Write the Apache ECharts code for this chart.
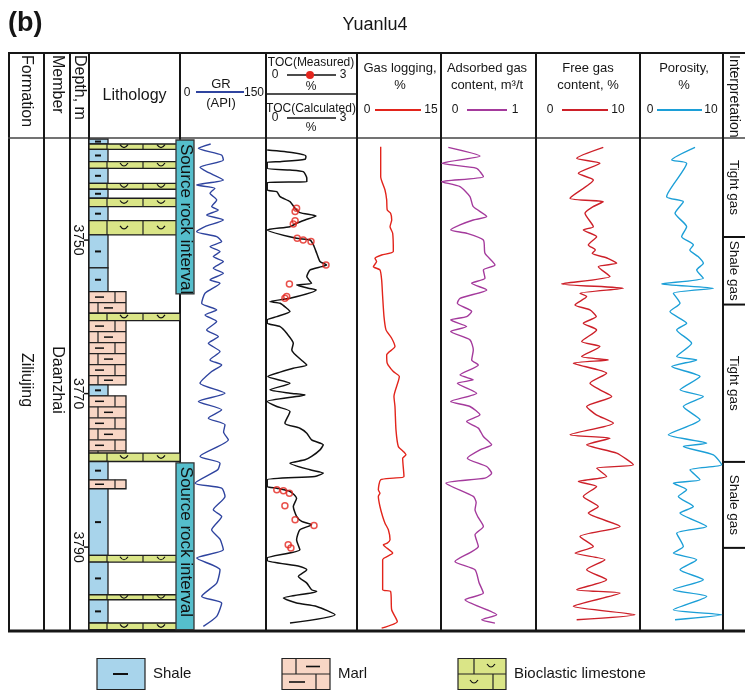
<!DOCTYPE html>
<html><head><meta charset="utf-8">
<script src="https://cdn.jsdelivr.net/npm/echarts@6/dist/echarts.min.js"></script>
<style>html,body{margin:0;padding:0;background:#fff}#c{width:745px;height:690px}</style>
</head><body><div id="c"></div><script>
// ---------------- DATA ----------------
const wellName = 'Yuanlu4';
const depthTop = 3736.7, depthBase = 3800.8;
const depthTicks = [3750, 3770, 3790];
const formationName = 'Ziliujing';
const memberName = 'Daanzhai';

const lithologyTops = [3736.85, 3737.48, 3738.17, 3739.79, 3740.65, 3742.60, 3743.38, 3744.55, 3745.65, 3747.47,
  3749.33, 3753.63, 3756.71, 3759.53, 3760.49, 3768.86, 3770.29, 3777.75, 3778.85, 3781.23,
  3782.40, 3791.09, 3791.95, 3796.21, 3796.86, 3799.89];
const lithologyBases = [3737.48, 3738.17, 3739.79, 3740.65, 3742.60, 3743.38, 3744.55, 3745.65, 3747.47, 3749.33,
  3753.63, 3756.71, 3759.53, 3760.49, 3768.86, 3770.29, 3777.75, 3778.85, 3781.23, 3782.40,
  3791.09, 3791.95, 3796.21, 3796.86, 3799.89, 3800.76];
const lithologyKinds = ['Shale','Bioclastic limestone','Shale','Bioclastic limestone','Shale','Bioclastic limestone',
  'Shale','Bioclastic limestone','Shale','Bioclastic limestone','Shale','Shale','Marl','Bioclastic limestone',
  'Marl','Shale','Marl','Bioclastic limestone','Shale','Marl','Shale','Bioclastic limestone','Shale',
  'Bioclastic limestone','Shale','Bioclastic limestone'];

const sourceRockTops = [3736.96, 3779.02];
const sourceRockBases = [3757.01, 3800.76];
const sourceRockLabel = 'Source rock interval';

const interpTops = [3736.7, 3749.6, 3758.4, 3778.9, 3790.1];
const interpBases = [3749.6, 3758.4, 3778.9, 3790.1, 3800.8];
const interpLabels = ['Tight gas', 'Shale gas', 'Tight gas', 'Shale gas', ''];

// [depth m, GR API]
const grLog = [[3737.48,53.5],[3738.05,32.0],[3738.92,72.7],[3739.57,75.6],[3740.52,34.9],[3741.09,46.5],[3742.17,75.6],
  [3742.82,29.1],[3743.26,61.0],[3743.91,52.3],[3744.77,64.0],[3745.64,55.2],[3746.08,66.9],[3746.73,46.5],[3747.38,75.6],
  [3748.25,43.6],[3748.90,29.1],[3749.55,64.0],[3750.20,72.7],[3750.85,52.3],[3751.50,69.8],[3752.15,58.1],[3752.80,75.6],
  [3753.67,58.1],[3754.32,75.6],[3755.19,52.3],[3755.63,69.8],[3756.93,43.6],[3758.23,37.8],[3759.10,64.0],[3759.75,43.6],
  [3760.62,64.0],[3761.70,46.5],[3762.57,66.9],[3763.44,49.4],[3764.52,69.8],[3765.61,52.3],[3766.26,72.7],[3767.13,55.2],
  [3768.65,34.9],[3769.95,78.5],[3771.03,32.0],[3772.12,72.7],[3773.20,49.4],[3774.07,78.5],[3775.00,76.0],[3776.02,84.3],
  [3778.19,34.9],[3779.06,69.8],[3779.90,66.0],[3781.67,26.2],[3782.32,72.7],[3783.40,78.5],[3785.14,58.1],[3786.01,72.7],
  [3787.74,55.2],[3789.00,70.0],[3790.35,75.6],[3791.43,29.1],[3792.95,69.8],[3794.69,64.0],[3796.42,37.8],[3797.29,72.7],
  [3799.03,64.0],[3800.33,40.7]];

// [depth m, TOC %] calculated
const tocCalculated = [[3738.26,0.04],[3738.61,0.91],[3739.05,1.33],[3739.48,1.30],[3739.78,0.47],[3739.87,0.04],
  [3740.65,0.04],[3740.87,0.80],[3741.09,1.24],[3741.95,1.36],[3742.39,1.36],[3742.52,0.04],[3743.47,0.04],[3743.69,0.36],
  [3744.34,0.47],[3744.99,0.80],[3745.86,0.97],[3746.42,1.13],[3746.86,1.67],[3747.38,1.30],[3747.81,1.02],[3748.25,0.80],
  [3748.68,0.04],[3749.77,1.02],[3749.98,1.47],[3750.63,1.58],[3751.72,1.69],[3752.80,1.80],[3753.24,2.02],[3753.46,1.86],
  [3753.89,1.47],[3754.76,1.36],[3755.63,1.52],[3755.84,1.02],[3756.28,1.41],[3756.49,1.67],[3757.58,0.80],[3758.01,0.13],
  [3758.23,0.47],[3758.88,0.69],[3759.31,0.80],[3759.97,0.36],[3760.40,0.04],[3760.83,0.04],[3761.27,0.47],[3762.14,0.69],
  [3763.44,0.91],[3764.31,0.86],[3765.83,1.24],[3766.26,1.36],[3766.70,0.91],[3767.20,0.47],[3767.78,0.06],[3768.65,0.80],
  [3769.51,0.13],[3769.95,0.80],[3770.17,1.30],[3771.03,0.04],[3771.68,0.36],[3772.33,0.80],[3773.85,0.63],[3774.51,1.13],
  [3775.16,1.36],[3776.02,1.52],[3776.68,1.91],[3777.33,1.80],[3778.19,1.52],[3778.63,1.30],[3779.06,0.80],[3779.93,1.47],
  [3780.36,1.91],[3780.80,1.63],[3781.23,0.04],[3782.10,0.04],[3782.32,0.36],[3782.75,0.80],[3783.62,1.02],[3784.71,0.91],
  [3786.01,1.02],[3786.66,1.19],[3787.09,1.52],[3787.74,1.13],[3789.04,1.02],[3790.35,1.13],[3791.43,0.04],[3791.74,0.04],
  [3792.52,1.13],[3792.95,1.36],[3793.82,1.08],[3794.69,1.36],[3795.56,1.52],[3795.77,1.69],[3796.64,0.58],[3797.29,1.02],
  [3797.73,1.69],[3798.81,2.30],[3799.90,0.80]];

// [depth m, TOC %] measured
const tocMeasured = [[3745.86,1.02],[3746.29,0.97],[3747.47,0.97],[3747.90,0.91],[3749.77,1.04],[3749.98,1.24],
  [3750.20,1.50],[3753.24,2.00],[3755.71,0.78],[3757.36,0.69],[3757.58,0.63],[3782.54,0.36],[3782.67,0.58],
  [3782.97,0.78],[3784.62,0.63],[3786.44,0.97],[3787.18,1.60],[3789.70,0.74],[3790.13,0.83]];

// [depth m, gas logging %]
const gasLogging = [[3737.83,4.23],[3741.74,4.23],[3743.47,5.00],[3744.77,5.30],[3746.08,5.40],[3746.51,6.00],[3747.38,6.20],
  [3748.25,5.90],[3749.11,6.37],[3751.50,6.49],[3751.94,4.40],[3752.37,3.21],[3752.80,3.50],[3753.46,2.92],[3753.89,4.10],
  [3755.19,4.40],[3757.36,4.58],[3759.97,4.82],[3761.70,5.18],[3762.79,6.19],[3763.87,6.78],[3764.96,5.30],[3766.04,5.40],
  [3767.13,6.49],[3767.78,7.56],[3770.38,6.60],[3771.68,6.78],[3774.72,6.96],[3776.89,7.38],[3777.54,8.27],[3777.98,8.75],
  [3778.41,8.15],[3780.80,8.39],[3781.01,6.49],[3781.23,4.23],[3782.54,3.81],[3782.97,4.10],[3783.40,3.81],[3784.71,4.10],
  [3786.01,4.58],[3786.88,5.00],[3787.74,5.60],[3789.04,5.90],[3789.48,5.40],[3789.70,4.70],[3790.78,6.37],[3791.65,4.58],
  [3795.55,4.58],[3795.77,6.00],[3798.16,6.19],[3799.68,7.20],[3800.55,4.40]];

// [depth m, adsorbed gas m3/t]
const adsorbedGas = [[3737.92,0.077],[3739.05,0.41],[3740.00,0.007],[3740.65,0.375],[3741.74,0.446],[3742.39,0.007],
  [3743.04,0.20],[3744.34,0.305],[3745.64,0.34],[3746.94,0.481],[3747.38,0.34],[3748.03,0.20],[3748.68,0.102],[3749.11,0.27],
  [3749.98,0.446],[3751.72,0.463],[3753.24,0.568],[3753.89,0.446],[3754.97,0.463],[3755.62,0.323],[3756.49,0.481],
  [3757.58,0.20],[3758.23,0.172],[3759.31,0.323],[3759.97,0.27],[3760.40,0.102],[3761.27,0.27],[3761.92,0.102],[3763.00,0.305],
  [3764.31,0.34],[3765.61,0.323],[3766.26,0.393],[3767.56,0.20],[3768.21,0.34],[3768.65,0.172],[3769.95,0.375],[3771.03,0.102],
  [3771.68,0.305],[3772.77,0.41],[3773.64,0.27],[3774.50,0.393],[3775.59,0.446],[3776.68,0.533],[3777.33,0.41],[3778.41,0.277],
  [3779.50,0.481],[3780.37,0.533],[3781.01,0.463],[3781.67,0.053],[3783.40,0.34],[3784.20,0.37],[3785.14,0.358],[3786.10,0.39],
  [3787.31,0.446],[3788.39,0.358],[3789.91,0.393],[3791.86,0.147],[3792.95,0.358],[3794.60,0.40],[3795.99,0.446],
  [3796.86,0.253],[3798.81,0.586],[3799.46,0.428],[3799.90,0.568]];

// [depth m, free gas %]
const freeGas = [[3737.92,6.47],[3739.35,3.91],[3740.00,6.15],[3741.30,4.07],[3742.17,5.51],[3744.56,3.27],[3744.99,6.47],
  [3745.64,5.50],[3746.51,4.71],[3748.25,5.51],[3748.68,4.55],[3749.55,5.83],[3750.63,5.03],[3751.28,5.70],[3751.72,5.40],
  [3752.37,6.90],[3753.02,7.76],[3753.46,5.99],[3754.76,7.12],[3755.71,2.47],[3756.28,8.40],[3756.93,4.23],[3757.36,4.87],
  [3758.45,3.75],[3759.10,5.19],[3759.97,5.80],[3760.83,4.55],[3761.70,5.83],[3763.22,4.39],[3763.87,6.15],[3765.17,4.39],
  [3765.61,6.96],[3766.04,3.59],[3767.34,6.79],[3768.65,5.19],[3769.51,6.15],[3770.38,7.28],[3771.68,4.87],[3772.77,5.80],
  [3773.85,7.44],[3775.37,3.27],[3775.81,7.12],[3776.68,4.87],[3777.76,7.76],[3779.28,9.36],[3779.71,5.83],[3780.80,6.79],
  [3781.45,4.07],[3782.10,5.83],[3783.40,4.55],[3784.71,5.99],[3785.57,5.03],[3787.31,8.08],[3788.61,4.23],[3789.91,5.51],
  [3790.78,3.75],[3791.65,6.63],[3792.95,4.87],[3794.25,6.79],[3795.55,3.91],[3795.99,8.08],[3797.72,3.59],[3798.81,9.52],
  [3799.46,3.91]];

// [depth m, porosity %]
const porosity = [[3737.92,6.63],[3739.57,3.82],[3740.00,5.62],[3744.34,3.21],[3744.99,5.22],[3746.51,4.22],[3748.25,5.62],
  [3749.55,5.02],[3750.63,6.43],[3751.28,6.00],[3752.15,7.00],[3753.02,7.63],[3753.89,6.83],[3754.97,7.63],[3755.71,2.61],
  [3756.28,8.84],[3756.93,4.02],[3758.23,4.82],[3759.31,3.61],[3760.83,5.62],[3761.70,4.42],[3763.44,6.22],[3765.17,4.42],
  [3765.61,6.83],[3766.48,3.82],[3767.78,7.23],[3769.51,4.82],[3770.38,7.63],[3771.68,5.22],[3773.42,7.23],[3775.37,3.41],
  [3776.46,8.03],[3776.89,5.22],[3777.98,8.84],[3779.28,9.84],[3779.93,6.02],[3781.23,7.23],[3781.67,4.02],[3782.54,5.62],
  [3783.40,4.62],[3784.71,6.43],[3785.57,4.82],[3787.31,8.03],[3788.18,4.42],[3789.91,5.22],[3790.78,4.02],[3791.65,6.83],
  [3792.95,4.82],[3794.25,7.63],[3795.55,4.02],[3796.42,8.03],[3798.16,4.02],[3798.81,9.84],[3799.46,4.22]];

// ---------------- STYLE ----------------
const FONT = '"Liberation Sans", Arial, sans-serif';
const COL = {shale:'#A8D4EB', marl:'#F8D6C5', lime:'#DAE587', src:'#55BECC', ink:'#161616',
  gr:'#2F449F', toc:'#111111', tocM:'#E3261E', gas:'#E2241B', ads:'#A43A9C', free:'#CD2029', por:'#1C9FD7'};
const TOP = 138, HEIGHT = 492;
const tracks = [
  {left:89, width:105, min:0, max:1},    // 0 lithology
  {left:180, width:86, min:0, max:150},  // 1 GR
  {left:266, width:90, min:0, max:3},    // 2 TOC
  {left:357, width:84, min:0, max:15},   // 3 gas logging
  {left:441, width:95, min:0, max:1},    // 4 adsorbed
  {left:536, width:104, min:0, max:10},  // 5 free gas
  {left:640, width:83, min:0, max:10},   // 6 porosity
  {left:723, width:22, min:0, max:1},    // 7 interpretation
  {left:70, width:19, min:0, max:1}      // 8 depth
];

function seg(x1, y1, x2, y2, w, color, z) {
  return {type:'line', z: z == null ? 1 : z, silent:true, shape:{x1, y1, x2, y2}, style:{stroke: color || COL.ink, lineWidth: w || 1}};
}
function txt(text, x, y, size, opt) {
  opt = opt || {};
  return {type:'text', x, y, z: 5, silent:true, rotation: opt.rot || 0,
    style:{text, font: (opt.bold ? 'bold ' : '') + size + 'px ' + FONT, fill: opt.color || COL.ink,
      align: opt.align || 'center', verticalAlign: opt.va || 'middle'}};
}
const ROT = -Math.PI / 2;

function cup(cx, cy) {
  return {type:'bezierCurve', shape:{x1:cx-4, y1:cy-2, x2:cx+4, y2:cy-2, cpx1:cx, cpy1:cy+4},
    style:{stroke:'#111', lineWidth:1.2, fill:'none'}};
}

function lithoItem(params, api) {
  const kind = lithologyKinds[api.value(3)];
  const yT = api.coord([0, api.value(1)])[1];
  const yB = api.coord([0, api.value(2)])[1];
  const x0 = params.coordSys.x;
  const h = yB - yT;
  const ym = (yT + yB) / 2;
  const ch = [];
  const edge = {stroke:'#1e1e1e', lineWidth:1.3};
  if (kind === 'Shale') {
    ch.push({type:'rect', shape:{x:x0, y:yT, width:19, height:h}, style:Object.assign({fill:COL.shale}, edge)});
    ch.push({type:'line', shape:{x1:x0+6, y1:ym, x2:x0+12, y2:ym}, style:{stroke:'#111', lineWidth:2}});
  } else if (kind === 'Marl') {
    ch.push({type:'rect', shape:{x:x0, y:yT, width:37, height:h}, style:Object.assign({fill:COL.marl}, edge)});
    let i = 0;
    for (let y = yT; y < yB - 1; y += 11, i++) {
      const yb = Math.min(y + 11, yB);
      if (i > 0) ch.push({type:'line', shape:{x1:x0, y1:y, x2:x0+37, y2:y}, style:{stroke:'#222', lineWidth:1.2}});
      const dx = i % 2 === 0 ? 26 : 9;
      ch.push({type:'line', shape:{x1:x0+dx, y1:y, x2:x0+dx, y2:yb}, style:{stroke:'#222', lineWidth:1.2}});
      if (yb - y > 4) {
        const yc = (y + yb) / 2;
        const a = i % 2 === 0 ? [6, 15] : [15, 24];
        ch.push({type:'line', shape:{x1:x0+a[0], y1:yc, x2:x0+a[1], y2:yc}, style:{stroke:'#111', lineWidth:1.5}});
      }
    }
  } else {
    ch.push({type:'rect', shape:{x:x0, y:yT, width:91, height:h}, style:Object.assign({fill:COL.lime}, edge)});
    ch.push({type:'line', shape:{x1:x0+18, y1:yT, x2:x0+18, y2:yB}, style:{stroke:'#222', lineWidth:1.2}});
    ch.push({type:'line', shape:{x1:x0+54, y1:yT, x2:x0+54, y2:yB}, style:{stroke:'#222', lineWidth:1.2}});
    ch.push(cup(x0+35, ym));
    ch.push(cup(x0+72, ym));
  }
  return {type:'group', children:ch};
}

function sourceItem(params, api) {
  const yT = api.coord([0, api.value(1)])[1];
  const yB = api.coord([0, api.value(2)])[1];
  const x0 = params.coordSys.x + 87;
  return {type:'group', children:[
    {type:'rect', shape:{x:x0, y:yT, width:18, height:yB-yT}, style:{fill:COL.src, stroke:'#333', lineWidth:1.3}},
    {type:'text', x:x0+9.5, y:yT+4, rotation:ROT,
      style:{text:sourceRockLabel, font:'17px ' + FONT, fill:'#111', align:'left', verticalAlign:'middle'}}
  ]};
}

function interpItem(params, api) {
  const idx = api.value(3);
  const yT = api.coord([0, api.value(1)])[1];
  const yB = api.coord([0, api.value(2)])[1];
  const x0 = params.coordSys.x, w = params.coordSys.width;
  const ch = [];
  if (idx > 0) ch.push({type:'line', shape:{x1:x0, y1:yT, x2:x0+w, y2:yT}, style:{stroke:'#111', lineWidth:2}});
  if (interpLabels[idx]) ch.push({type:'text', x:x0+11, y:(yT+yB)/2, rotation:ROT,
    style:{text:interpLabels[idx], font:'13.5px ' + FONT, fill:'#111', align:'center', verticalAlign:'middle'}});
  return {type:'group', children:ch};
}

// depth ticks + labels drawn on the depth track through its y scale
function depthItem(params, api) {
  const d = api.value(1);
  const y = api.coord([0, d])[1];
  const xr = params.coordSys.x + params.coordSys.width;
  return {type:'group', children:[
    {type:'line', shape:{x1:xr-5, y1:y, x2:xr, y2:y}, style:{stroke:'#111', lineWidth:1.5}},
    {type:'text', x:xr-11.5, y, rotation:ROT,
      style:{text:String(d), font:'14px ' + FONT, fill:'#111', align:'center', verticalAlign:'middle'}}
  ]};
}

// ---------------- GRAPHIC (frame & header) ----------------
const g = [];
const colLines = [44, 70, 89, 180, 266, 357, 441, 536, 640, 723];
g.push(seg(8, 53, 745, 53, 2));
g.push(seg(9, 52, 9, 632, 2));
g.push(seg(8, 138, 745, 138, 1.5, '#444'));
g.push(seg(8, 631, 745, 631, 3));
colLines.forEach(x => g.push(seg(x, 52, x, 631, 2)));
g.push(seg(266, 94, 357, 94, 1.5));

g.push(txt('(b)', 8, 24, 27, {bold:true, align:'left'}));
g.push(txt(wellName, 375, 25, 18));

g.push(txt('Formation', 26, 55, 16, {rot:ROT, align:'left'}));
g.push(txt('Member', 57, 55, 16, {rot:ROT, align:'left'}));
g.push(txt('Depth, m', 79.5, 55, 16, {rot:ROT, align:'left'}));
g.push(txt('Lithology', 134.5, 96, 16));
g.push(txt('Interpretation', 734, 55, 14, {rot:ROT, align:'left'}));

// GR
g.push(txt('0', 187, 93, 12)); g.push(txt('150', 254, 93, 12));
g.push(txt('GR', 221, 84, 13)); g.push(txt('(API)', 221, 103, 13));
g.push(seg(196, 92, 244, 92, 2, COL.gr, 4));
// TOC
g.push(txt('TOC(Measured)', 311, 63, 12));
g.push(txt('0', 275, 75, 12)); g.push(txt('3', 343, 75, 12)); g.push(txt('%', 311, 87, 12));
g.push(seg(287, 75, 336, 75, 1.5, '#111', 4));
g.push({type:'circle', z:5, silent:true, shape:{cx:310, cy:75, r:4}, style:{fill:COL.tocM}});
g.push(txt('TOC(Calculated)', 311, 109, 12));
g.push(txt('0', 275, 118, 12)); g.push(txt('3', 343, 118, 12)); g.push(txt('%', 311, 128, 12));
g.push(seg(287, 118, 336, 118, 1.5, '#111', 4));
// Gas logging
g.push(txt('Gas logging,', 400, 68, 13)); g.push(txt('%', 400, 85, 13));
g.push(txt('0', 367, 110, 12)); g.push(txt('15', 431, 110, 12));
g.push(seg(375, 110, 421, 110, 2, COL.gas, 4));
// Adsorbed
g.push(txt('Adsorbed gas', 487, 68, 13)); g.push(txt('content, m³/t', 487, 85, 13));
g.push(txt('0', 455, 110, 12)); g.push(txt('1', 515, 110, 12));
g.push(seg(467, 110, 507, 110, 2, COL.ads, 4));
// Free gas
g.push(txt('Free gas', 588, 68, 13)); g.push(txt('content, %', 588, 85, 13));
g.push(txt('0', 550, 110, 12)); g.push(txt('10', 618, 110, 12));
g.push(seg(562, 110, 608, 110, 2, COL.free, 4));
// Porosity
g.push(txt('Porosity,', 684, 68, 13)); g.push(txt('%', 684, 85, 13));
g.push(txt('0', 650, 110, 12)); g.push(txt('10', 711, 110, 12));
g.push(seg(657, 110, 702, 110, 2, COL.por, 4));

// body column texts
g.push(txt(formationName, 26, 380, 16, {rot:ROT}));
g.push(txt(memberName, 57, 380, 16, {rot:ROT}));

// legend
function box(x, fill) { return {type:'rect', z:5, silent:true, shape:{x, y:658.5, width:48, height:31}, style:{fill, stroke:'#222', lineWidth:1.2}}; }
g.push(box(97, COL.shale)); g.push(seg(113, 674, 128, 674, 2, '#111', 6));
g.push(txt('Shale', 153, 674, 15, {align:'left'}));
g.push(box(282, COL.marl));
g.push(seg(282, 674, 330, 674, 1.2, '#222', 6));
g.push(seg(296, 659, 296, 674, 1.2, '#222', 6)); g.push(seg(306, 666.5, 320, 666.5, 1.6, '#111', 6));
g.push(seg(316, 674, 316, 689, 1.2, '#222', 6)); g.push(seg(289, 682, 305, 682, 1.6, '#111', 6));
g.push(txt('Marl', 338, 674, 15, {align:'left'}));
g.push(box(458, COL.lime));
g.push(seg(458, 674, 506, 674, 1.2, '#222', 6));
g.push(seg(474, 659, 474, 674, 1.2, '#222', 6)); g.push(seg(493, 674, 493, 689, 1.2, '#222', 6));
g.push(Object.assign(cup(491, 666), {z:6, silent:true}));
g.push(Object.assign(cup(474, 682), {z:6, silent:true}));
g.push(txt('Bioclastic limestone', 514, 674, 15, {align:'left'}));

// ---------------- OPTION ----------------
const grids = tracks.map(t => ({left:t.left, width:t.width, top:TOP, height:HEIGHT, containLabel:false}));
const xAxes = tracks.map((t, i) => ({type:'value', gridIndex:i, min:t.min, max:t.max, show:false}));
const yAxes = tracks.map((t, i) => ({type:'value', gridIndex:i, min:depthTop, max:depthBase, inverse:true, show:false}));

const curve = (idx, arr, color, w) => ({type:'line', xAxisIndex:idx, yAxisIndex:idx, data:arr.map(p => [p[1], p[0]]),
  showSymbol:false, smooth:0.2, silent:true, lineStyle:{color, width:w || 1.4}, z:3});

const series = [
  {type:'custom', xAxisIndex:0, yAxisIndex:0, renderItem:lithoItem, clip:false, silent:true, z:2,
    encode:{x:0, y:[1, 2]}, data:lithologyTops.map((t, i) => [0.5, t, lithologyBases[i], i])},
  {type:'custom', xAxisIndex:0, yAxisIndex:0, renderItem:sourceItem, clip:false, silent:true, z:3,
    encode:{x:0, y:[1, 2]}, data:sourceRockTops.map((t, i) => [0.5, t, sourceRockBases[i], i])},
  curve(1, grLog, COL.gr, 1.4),
  curve(2, tocCalculated, COL.toc, 1.5),
  {type:'scatter', xAxisIndex:2, yAxisIndex:2, data:tocMeasured.map(p => [p[1], p[0]]), symbol:'circle', symbolSize:6,
    silent:true, z:4, itemStyle:{color:'rgba(0,0,0,0)', borderColor:COL.tocM, borderWidth:1.5}},
  curve(3, gasLogging, COL.gas, 1.4),
  curve(4, adsorbedGas, COL.ads, 1.4),
  curve(5, freeGas, COL.free, 1.4),
  curve(6, porosity, COL.por, 1.4),
  {type:'custom', xAxisIndex:7, yAxisIndex:7, renderItem:interpItem, clip:false, silent:true, z:3,
    encode:{x:0, y:[1, 2]}, data:interpTops.map((t, i) => [0.5, t, interpBases[i], i])},
  {type:'custom', xAxisIndex:8, yAxisIndex:8, renderItem:depthItem, clip:false, silent:true, z:3,
    encode:{x:0, y:1}, data:depthTicks.map(d => [0.5, d])}
];

const chart = echarts.init(document.getElementById('c'), null, {renderer:'canvas'});
chart.setOption({animation:false, backgroundColor:'#fff', grid:grids, xAxis:xAxes, yAxis:yAxes, series, graphic:{elements:g}});
</script></body></html>
